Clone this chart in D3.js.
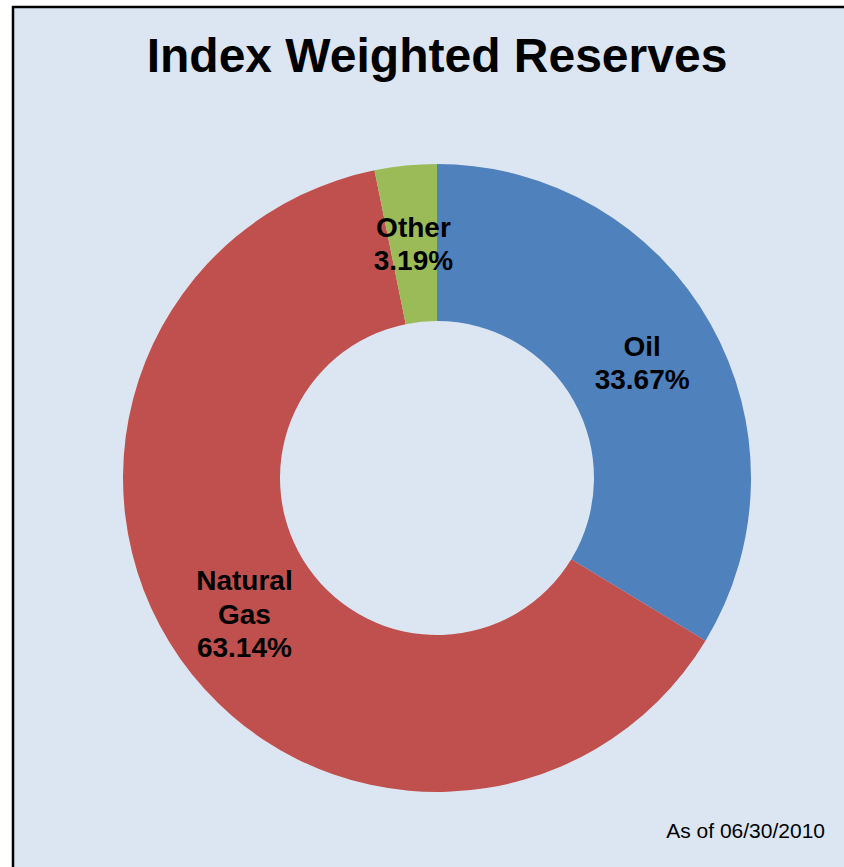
<!DOCTYPE html>
<html>
<head>
<meta charset="utf-8">
<script src="https://cdn.jsdelivr.net/npm/d3@7"></script>
<style>
html,body{margin:0;padding:0;background:#fff;}
svg{display:block;}
</style>
</head>
<body>
<script>
const categories = ["Oil", "Natural Gas", "Other"];
const values = [33.67, 63.14, 3.19];
const labelLines = [["Oil", "33.67%"], ["Natural", "Gas", "63.14%"], ["Other", "3.19%"]];
const colors = ["#4F81BD", "#C0504D", "#9BBB59"];
const title = "Index Weighted Reserves";
const footnote = "As of 06/30/2010";

const W = 844, H = 867;
const svg = d3.select("body").append("svg").attr("width", W).attr("height", H);

svg.append("rect").attr("x", 13).attr("y", 7).attr("width", 900).attr("height", 900)
  .attr("fill", "#DCE6F2").attr("stroke", "#000").attr("stroke-width", 2.5);

svg.append("text").attr("x", 437).attr("y", 72).attr("text-anchor", "middle")
  .style("font-family", "Liberation Sans, Arial, sans-serif").style("font-weight", "bold")
  .style("font-size", "48px").attr("fill", "#000").text(title);

const cx = 437, cy = 478, rOuter = 314, rInner = 157;
const g = svg.append("g").attr("transform", `translate(${cx},${cy})`);

const data = categories.map((c, i) => ({cat: c, value: values[i], lines: labelLines[i], color: colors[i]}));
const pie = d3.pie().value(d => d.value).sort(null);
const arcs = pie(data);
const arc = d3.arc().innerRadius(rInner).outerRadius(rOuter);
const labelArc = d3.arc().innerRadius(rInner).outerRadius(rOuter);

g.selectAll("path").data(arcs).join("path")
  .attr("d", arc).attr("fill", d => d.data.color);

const lineH = 33.5;
arcs.forEach(a => {
  const [lx, ly] = labelArc.centroid(a);
  const n = a.data.lines.length;
  const t = g.append("text").attr("text-anchor", "middle")
    .style("font-family", "Liberation Sans, Arial, sans-serif").style("font-weight", "bold")
    .style("font-size", "28px").attr("fill", "#000");
  a.data.lines.forEach((ln, i) => {
    t.append("tspan").attr("x", lx)
      .attr("y", ly + (i - (n - 1) / 2) * lineH + 10)
      .text(ln);
  });
});

svg.append("text").attr("x", 825).attr("y", 838).attr("text-anchor", "end")
  .style("font-family", "Liberation Sans, Arial, sans-serif")
  .style("font-size", "21px").attr("fill", "#000").text(footnote);
</script>
</body>
</html>
